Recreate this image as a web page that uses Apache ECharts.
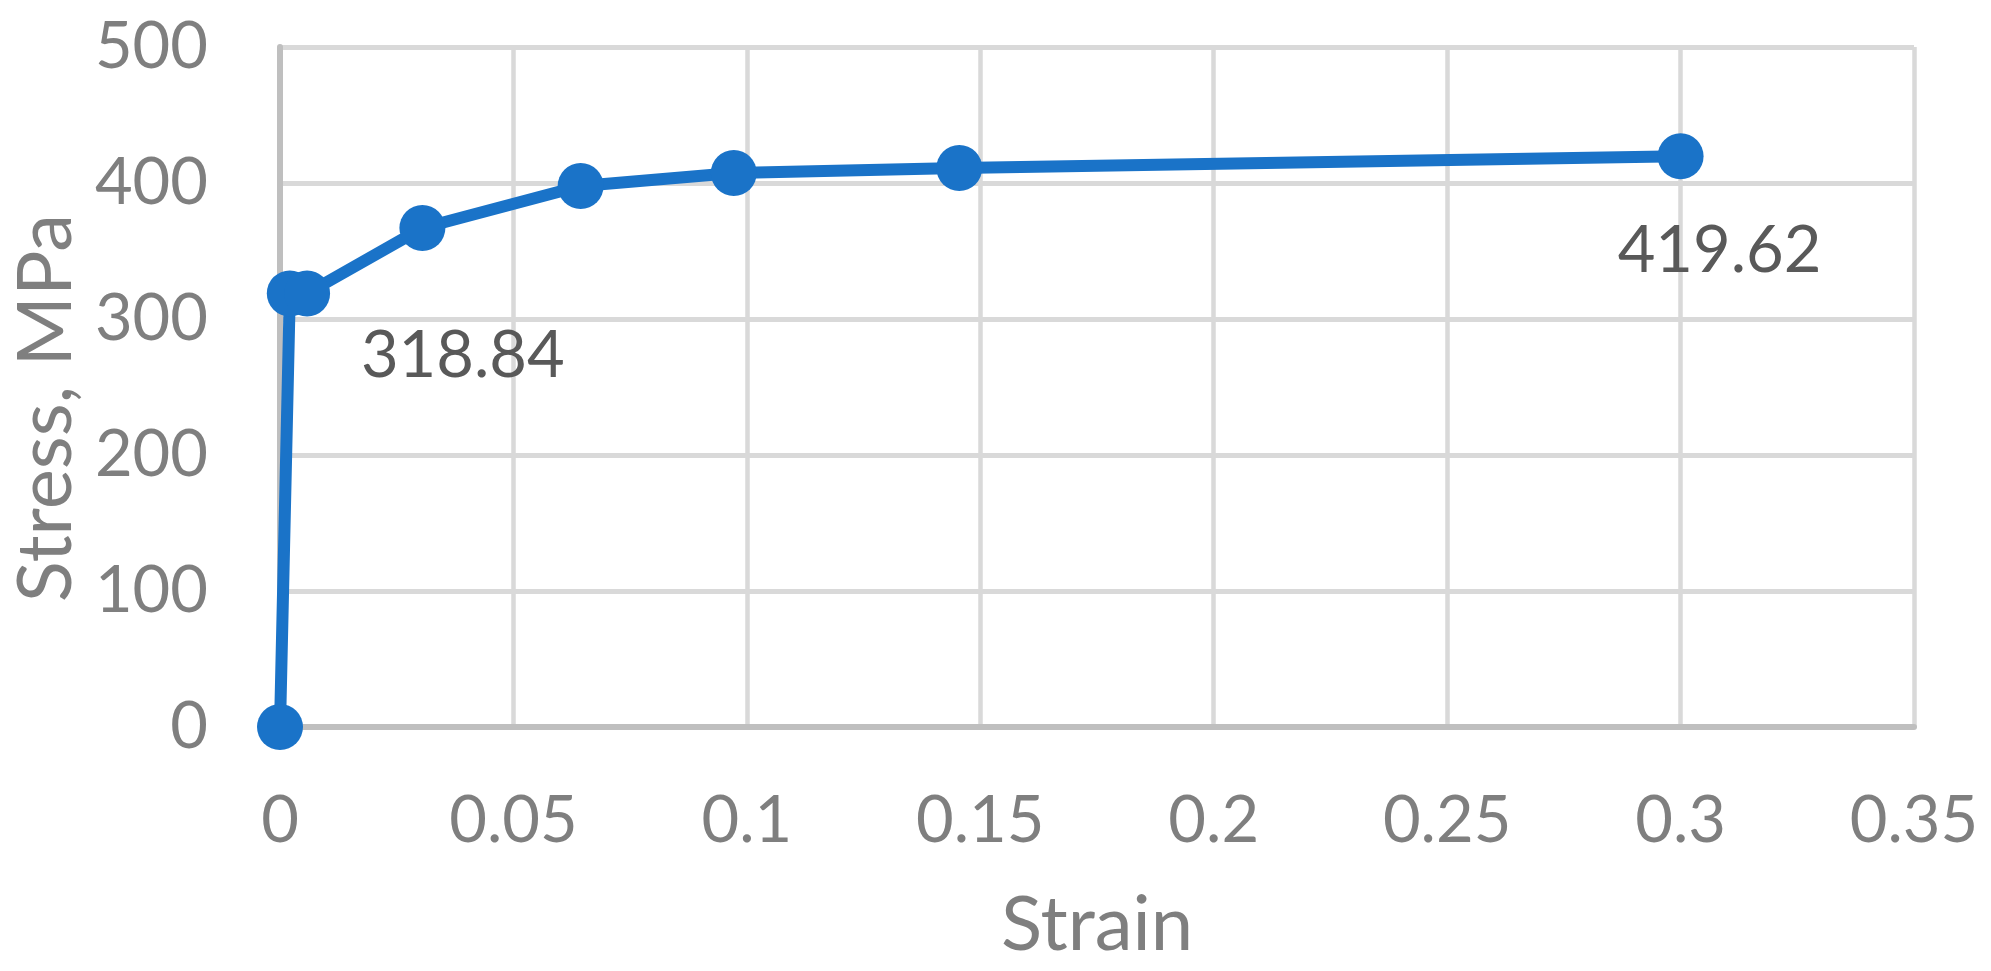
<!DOCTYPE html>
<html>
<head>
<meta charset="utf-8">
<script src="https://cdn.jsdelivr.net/npm/echarts@6/dist/echarts.min.js"></script>
<style>
html,body{margin:0;padding:0;background:#ffffff;}
#chart{width:1991px;height:971px;}
</style>
</head>
<body>
<div id="chart"></div>
<script>
// Data
const strain = [0, 0.0021, 0.0058, 0.0305, 0.0644, 0.0972, 0.1455, 0.3];
const stress = [0, 318.84, 318.84, 366.9, 397.8, 407.4, 411.0, 419.62];
const labelledIndex = [1, 7];
const xTicks = {min: 0, max: 0.35, interval: 0.05};
const yTicks = {min: 0, max: 500, interval: 100};
const xTitle = 'Strain';
const yTitle = 'Stress, MPa';

const FONT = 'Lato, "Open Sans", sans-serif';
const labelOffsets = {1: [173, 63], 7: [39, 95]};

const seriesData = strain.map((x, i) => {
  const item = {value: [x, stress[i]]};
  if (labelledIndex.indexOf(i) >= 0) {
    item.label = {
      show: true,
      position: 'inside',
      offset: labelOffsets[i],
      formatter: stress[i].toFixed(2),
      color: '#595959',
      fontFamily: FONT,
      fontSize: 65
    };
  }
  return item;
});

const chart = echarts.init(document.getElementById('chart'), null, {renderer: 'canvas'});
chart.setOption({
  backgroundColor: '#ffffff',
  animation: false,
  grid: {left: 280, right: 77, top: 47, bottom: 244, containLabel: false},
  xAxis: {
    type: 'value',
    min: xTicks.min, max: xTicks.max, interval: xTicks.interval,
    name: xTitle,
    nameLocation: 'middle',
    nameGap: 160,
    nameTextStyle: {color: '#7f7f7f', fontFamily: FONT, fontSize: 76},
    axisLine: {show: true, lineStyle: {color: '#bfbfbf', width: 6}},
    axisTick: {show: false},
    axisLabel: {color: '#7f7f7f', fontFamily: FONT, fontSize: 65, margin: 62},
    splitLine: {show: true, lineStyle: {color: '#d9d9d9', width: 4.5}}
  },
  yAxis: {
    type: 'value',
    min: yTicks.min, max: yTicks.max, interval: yTicks.interval,
    name: yTitle,
    nameLocation: 'middle',
    nameGap: 196,
    nameTextStyle: {color: '#7f7f7f', fontFamily: FONT, fontSize: 76, padding: [0, 42, 0, 0]},
    axisLine: {show: true, lineStyle: {color: '#bfbfbf', width: 6}},
    axisTick: {show: false},
    axisLabel: {color: '#7f7f7f', fontFamily: FONT, fontSize: 65, margin: 72},
    splitLine: {show: true, lineStyle: {color: '#d9d9d9', width: 5}}
  },
  series: [{
    type: 'line',
    data: seriesData,
    clip: false,
    symbol: 'circle',
    symbolSize: 46,
    itemStyle: {color: '#1a73c8'},
    lineStyle: {color: '#1a73c8', width: 12},
    label: {show: false}
  }]
});
</script>
</body>
</html>
